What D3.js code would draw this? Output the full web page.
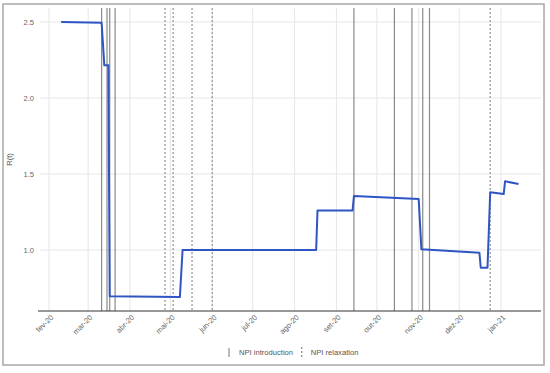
<!DOCTYPE html>
<html><head><meta charset="utf-8">
<script src="https://cdn.jsdelivr.net/npm/d3@7"></script>
<style>
body{margin:0;background:#fff;}
svg{display:block;font-family:"Liberation Sans",Arial,sans-serif;}
</style></head>
<body><svg id="c" width="550" height="373"></svg>
<script>
const dates = ["2020-02-10","2020-03-11","2020-03-13","2020-03-16","2020-03-17","2020-05-08","2020-05-10","2020-08-17","2020-08-18","2020-09-13","2020-09-14","2020-11-01","2020-11-03","2020-12-16","2020-12-17","2020-12-22","2020-12-24","2021-01-03","2021-01-04","2021-01-14"];
const rValues = [2.50,2.495,2.215,2.215,0.695,0.69,1.0,1.0,1.26,1.26,1.355,1.335,1.005,0.982,0.884,0.884,1.38,1.368,1.452,1.434];
const npiIntro = ["2020-03-11","2020-03-15","2020-03-17","2020-03-21","2020-09-14","2020-10-14","2020-10-27","2020-11-04","2020-11-09"];
const npiRelax = ["2020-04-27","2020-05-03","2020-05-17","2020-06-01","2020-12-24"];
const xTickDates = ["2020-02-01","2020-03-01","2020-04-01","2020-05-01","2020-06-01","2020-07-01","2020-08-01","2020-09-01","2020-10-01","2020-11-01","2020-12-01","2021-01-01"];
const xTickLabels = ["fev-20","mar-20","abr-20","mai-20","jun-20","jul-20","ago-20","set-20","out-20","nov-20","dez-20","jan-21"];
const yTicks = [1.0,1.5,2.0,2.5];
const yTickLabels = ["1.0","1.5","2.0","2.5"];
const legendLabels = ["NPI introduction","NPI relaxation"];

const parse = d3.utcParse("%Y-%m-%d");
const svg = d3.select("#c");
const L = 40, R = 541, T = 8, B = 311;

// calibrate x scale from tick positions, then extend to plot edges
const x0 = d3.scaleUtc().domain([parse("2020-02-01"), parse("2021-01-01")]).range([49, 501]);
const x = d3.scaleUtc().domain([x0.invert(L), x0.invert(R)]).range([L, R]);
const y0 = d3.scaleLinear().domain([1.0, 2.5]).range([250, 22]);
const y = d3.scaleLinear().domain([y0.invert(B), y0.invert(T)]).range([B, T]);

// outer frame
svg.append("rect").attr("x",3).attr("y",4).attr("width",541).attr("height",361)
  .attr("fill","none").attr("stroke","#a8a8a8").attr("stroke-width",1.5);

// gridlines
const g = svg.append("g");
g.selectAll(".vg").data(xTickDates).join("line")
  .attr("x1",d=>x(parse(d))).attr("x2",d=>x(parse(d)))
  .attr("y1",T).attr("y2",B).attr("stroke","#e6e6e6").attr("stroke-width",1);
g.selectAll(".hg").data(yTicks).join("line")
  .attr("x1",L).attr("x2",R).attr("y1",d=>y(d)).attr("y2",d=>y(d))
  .attr("stroke","#e6e6e6").attr("stroke-width",1);

// NPI lines
g.selectAll(".ni").data(npiIntro).join("line")
  .attr("x1",d=>x(parse(d))).attr("x2",d=>x(parse(d)))
  .attr("y1",T).attr("y2",B).attr("stroke","#8a8a8a").attr("stroke-width",1.2);
g.selectAll(".nr").data(npiRelax).join("line")
  .attr("x1",d=>x(parse(d))).attr("x2",d=>x(parse(d)))
  .attr("y1",T).attr("y2",B).attr("stroke","#9a9a9a").attr("stroke-width",1.3)
  .attr("stroke-dasharray","2,2");

// R(t) line
const data = dates.map((d,i)=>({d:parse(d), v:rValues[i]}));
svg.append("path").datum(data)
  .attr("fill","none").attr("stroke","#2f55c4").attr("stroke-width",2)
  .attr("stroke-linejoin","round")
  .attr("d", d3.line().x(p=>x(p.d)).y(p=>y(p.v)));

// x axis line
svg.append("line").attr("x1",L-2).attr("x2",R).attr("y1",B).attr("y2",B)
  .attr("stroke","#333").attr("stroke-width",1);

// x tick labels
svg.selectAll(".xl").data(xTickDates).join("text")
  .attr("transform",d=>`translate(${x(parse(d))+3},${B+5}) rotate(-45)`)
  .attr("text-anchor","end").attr("dy","0.35em")
  .attr("font-size",7.6).attr("fill","#666")
  .text((d,i)=>xTickLabels[i]);

// y tick labels
svg.selectAll(".yl").data(yTicks).join("text")
  .attr("x",34).attr("y",d=>y(d)).attr("dy","0.35em")
  .attr("text-anchor","end").attr("font-size",7.6).attr("fill","#666")
  .text((d,i)=>yTickLabels[i]);

// y title
svg.append("text").attr("transform",`translate(12,${(T+B)/2}) rotate(-90)`)
  .attr("text-anchor","middle").attr("font-size",7.6).attr("fill","#555").text("R(t)");

// legend
const lg = svg.append("g");
lg.append("line").attr("x1",229).attr("x2",229).attr("y1",348).attr("y2",357)
  .attr("stroke","#777").attr("stroke-width",1);
lg.append("text").attr("x",239).attr("y",352.5).attr("dy","0.35em")
  .attr("font-size",7.6).attr("fill","#555").text(legendLabels[0]);
lg.append("line").attr("x1",301.7).attr("x2",301.7).attr("y1",347).attr("y2",358)
  .attr("stroke","#888").attr("stroke-width",1.2).attr("stroke-dasharray","2,2");
lg.append("text").attr("x",310.7).attr("y",352.5).attr("dy","0.35em")
  .attr("font-size",7.6).attr("fill","#555").text(legendLabels[1]);
</script></body></html>
